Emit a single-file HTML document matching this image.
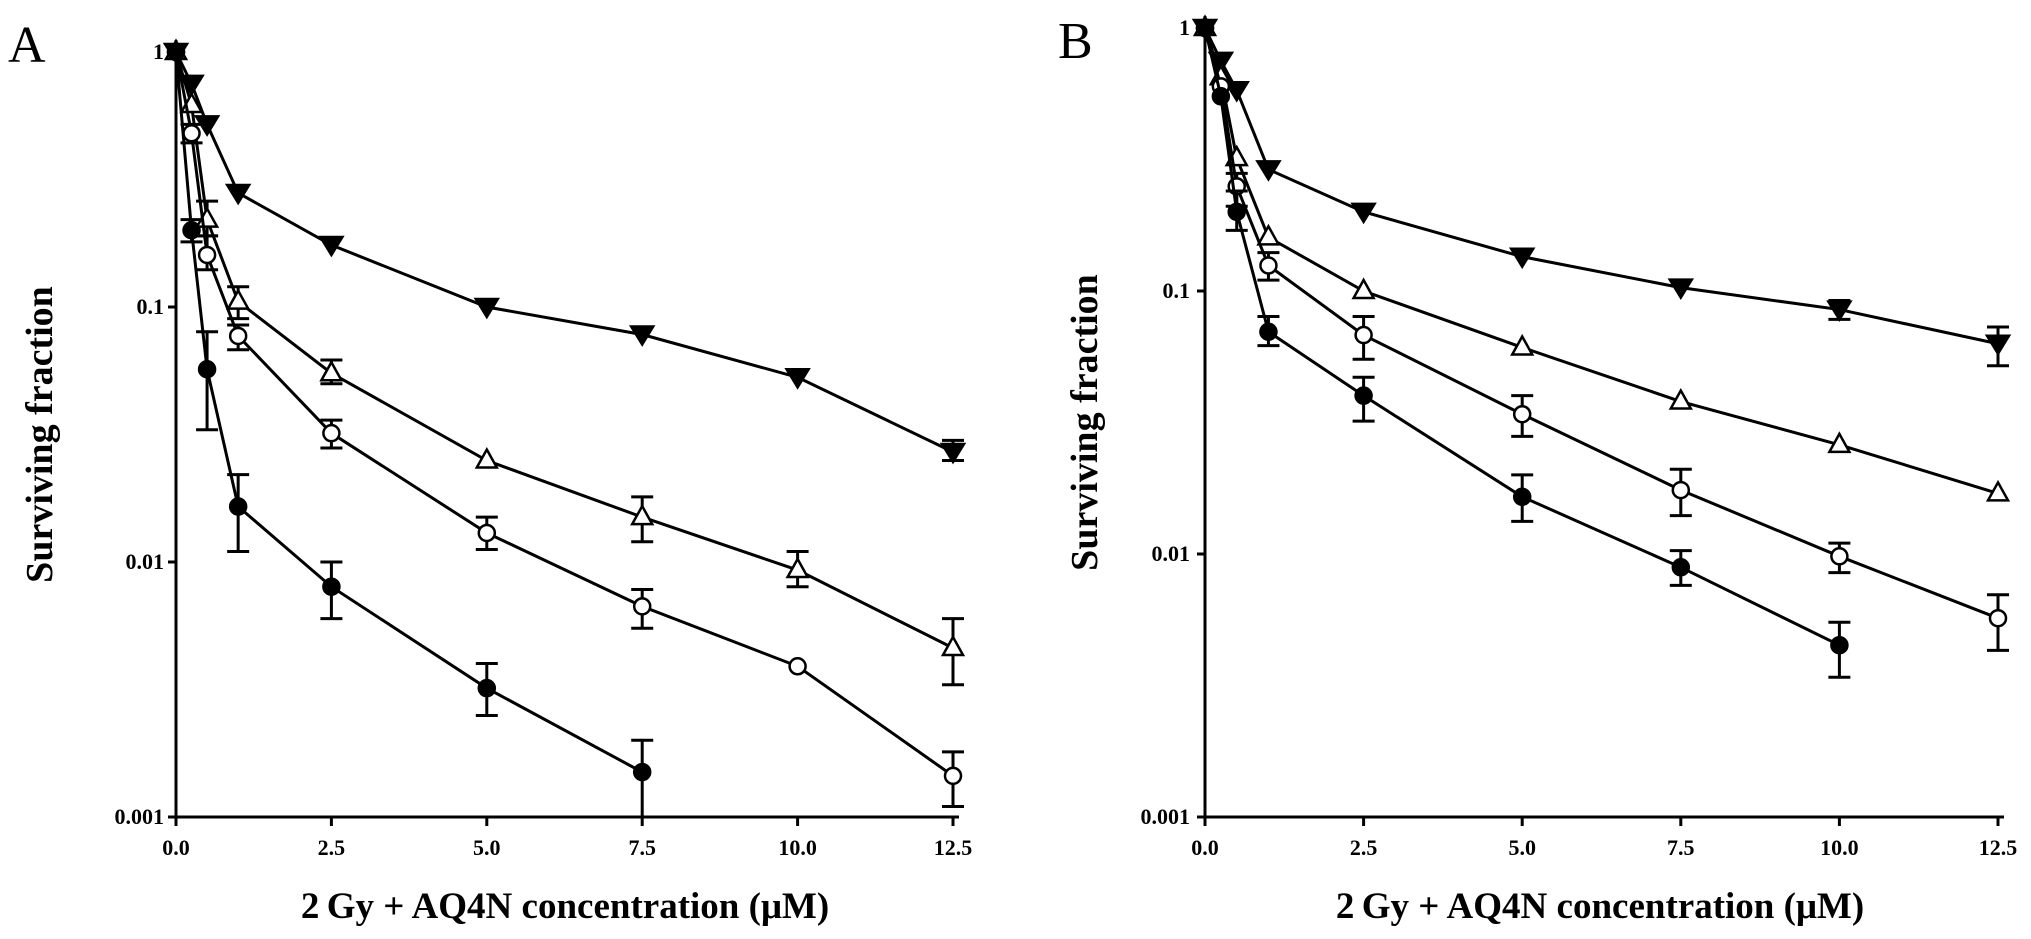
<!DOCTYPE html>
<html><head><meta charset="utf-8"><style>
html,body{margin:0;padding:0;background:#fff;}
svg{display:block;}
text{font-family:"Liberation Serif",serif;font-weight:bold;fill:#000;}
</style></head><body>
<svg id="chart" width="2031" height="939" viewBox="0 0 2031 939"></svg>
<script>
const xVals=[0,0.25,0.5,1,2.5,5,7.5,10,12.5];
const xTicks=[0,2.5,5,7.5,10,12.5];
const xTickLabels=["0.0","2.5","5.0","7.5","10.0","12.5"];
const yTicks=[1,0.1,0.01,0.001];
const yTickLabels=["1","0.1","0.01","0.001"];
// Panel A
const aFilledTri=[1,0.75,0.52,0.28,0.175,0.1,0.078,0.053,0.027];
const aFilledTriHi=[null,null,null,null,null,null,null,null,0.03];
const aFilledTriLo=[null,null,null,null,null,null,null,null,0.025];
const aOpenTri=[1,0.62,0.22,0.105,0.055,0.025,0.015,0.0093,0.0046];
const aOpenTriHi=[null,null,0.26,0.12,0.062,null,0.018,0.011,0.006];
const aOpenTriLo=[null,null,0.19,0.09,0.05,null,0.012,0.008,0.0033];
const aOpenCirc=[1,0.48,0.16,0.077,0.032,0.013,0.0067,0.0039,0.00145];
const aOpenCircHi=[null,0.52,0.19,0.085,0.036,0.015,0.0078,null,0.0018];
const aOpenCircLo=[null,0.44,0.14,0.068,0.028,0.0112,0.0055,null,0.0011];
const aFilledCirc=[1,0.2,0.057,0.0165,0.008,0.0032,0.0015];
const aFilledCircHi=[null,0.22,0.08,0.022,0.010,0.004,0.002];
const aFilledCircLo=[null,0.18,0.033,0.011,0.006,0.0025,0.001];
// Panel B
const bFilledTri=[1,0.75,0.58,0.29,0.2,0.135,0.103,0.085,0.063];
const bFilledTriHi=[null,null,null,null,null,null,null,0.092,0.073];
const bFilledTriLo=[null,null,null,null,null,null,null,0.078,0.052];
const bOpenTri=[1,0.65,0.32,0.16,0.1,0.061,0.038,0.026,0.017];
const bOpenTriHi=[null,null,null,null,null,null,null,null,null];
const bOpenTriLo=[null,null,null,null,null,null,null,null,null];
const bOpenCirc=[1,0.6,0.25,0.125,0.068,0.034,0.0175,0.0098,0.0057];
const bOpenCircHi=[null,null,0.28,0.14,0.08,0.04,0.021,0.011,0.007];
const bOpenCircLo=[null,null,0.21,0.11,0.055,0.028,0.014,0.0085,0.0043];
const bFilledCirc=[1,0.55,0.2,0.07,0.04,0.0165,0.0089,0.0045];
const bFilledCircHi=[null,null,0.24,0.08,0.047,0.02,0.0103,0.0055];
const bFilledCircLo=[null,null,0.17,0.062,0.032,0.0133,0.0076,0.0034];

const NS="http://www.w3.org/2000/svg";
const svg=document.getElementById('chart');
function mk(tag,attrs,parent){const e=document.createElementNS(NS,tag);for(const k in attrs)e.setAttribute(k,attrs[k]);(parent||svg).appendChild(e);return e;}

const panels=[
 {id:'a',letter:'A',lx:8,ly:62,x0:176,x1:953,yBottom:817,decade:255,ylabX:40,labRight:164,titleX:565,
  series:[[aFilledTri,aFilledTriHi,aFilledTriLo,'tri-down',true,'filled-triangle'],[aOpenTri,aOpenTriHi,aOpenTriLo,'tri-up',false,'open-triangle'],[aOpenCirc,aOpenCircHi,aOpenCircLo,'circle',false,'open-circle'],[aFilledCirc,aFilledCircHi,aFilledCircLo,'circle',true,'filled-circle']]},
 {id:'b',letter:'B',lx:1058,ly:58,x0:1205,x1:1998,yBottom:817,decade:263,ylabX:1085,labRight:1190,titleX:1600,
  series:[[bFilledTri,bFilledTriHi,bFilledTriLo,'tri-down',true,'filled-triangle'],[bOpenTri,bOpenTriHi,bOpenTriLo,'tri-up',false,'open-triangle'],[bOpenCirc,bOpenCircHi,bOpenCircLo,'circle',false,'open-circle'],[bFilledCirc,bFilledCircHi,bFilledCircLo,'circle',true,'filled-circle']]}
];

panels.forEach(p=>{
 const g=mk('g',{});
 
 
 const sx=v=>p.x0+(v/12.5)*(p.x1-p.x0);
 const sy=v=>p.yBottom-(Math.log10(v)+3)*p.decade;
 const L=mk('text',{x:p.lx,y:p.ly,'font-size':52,'font-weight':'normal',style:'font-weight:normal'},g);L.textContent=p.letter;
 
 
 const ya=mk('line',{x1:p.x0,y1:sy(1)-12,x2:p.x0,y2:p.yBottom,stroke:'#000','stroke-width':3},g);
 
 
 const xa=mk('line',{x1:p.x0-8,y1:p.yBottom,x2:p.x1+6,y2:p.yBottom,stroke:'#000','stroke-width':3},g);
 
 
 yTicks.forEach((t,i)=>{
  mk('line',{x1:p.x0-8,y1:sy(t),x2:p.x0,y2:sy(t),stroke:'#000','stroke-width':3},g);
  const tl=mk('text',{x:p.labRight,y:sy(t)+7,'font-size':22,'text-anchor':'end'},g);tl.textContent=yTickLabels[i];
  
  
 });
 xTicks.forEach((t,i)=>{
  mk('line',{x1:sx(t),y1:p.yBottom,x2:sx(t),y2:p.yBottom+9,stroke:'#000','stroke-width':3},g);
  const tl=mk('text',{x:sx(t),y:p.yBottom+38,'font-size':22,'text-anchor':'middle'},g);tl.textContent=xTickLabels[i];
  
  
 });
 const xt=mk('text',{x:p.titleX,y:918,'font-size':37,'text-anchor':'middle'},g);xt.textContent='2\u2009Gy + AQ4N concentration (\u03bcM)';
 
 
 const yt=mk('text',{x:0,y:0,'font-size':38,'text-anchor':'middle',transform:`translate(${p.ylabX+12},${(sy(1)+p.yBottom)/2}) rotate(-90)`},g);yt.textContent='Surviving fraction';
 
 
 p.series.forEach(s=>{
  const [vals,hi,lo,shape,filled,name]=s;
  const sg=mk('g',{},g);
  
  
  const pts=vals.map((v,i)=>sx(xVals[i])+','+sy(v)).join(' ');
  mk('polyline',{points:pts,fill:'none',stroke:'#000','stroke-width':3},sg);
  vals.forEach((v,i)=>{
   const cx=sx(xVals[i]),cy=sy(v);
   if(hi[i]!=null){
    const yh=sy(hi[i]),yl=sy(lo[i]);
    const eb=mk('path',{d:`M${cx},${yh}V${yl}M${cx-11},${yh}H${cx+11}M${cx-11},${yl}H${cx+11}`,stroke:'#000','stroke-width':3,fill:'none'},sg);
    
    
   }
   let m;
   const fill=filled?'#000':'#fff';
   if(shape==='circle') m=mk('circle',{cx:cx,cy:cy,r:8,fill:fill,stroke:'#000','stroke-width':2.5},sg);
   else if(shape==='tri-up') m=mk('polygon',{points:`${cx},${cy-11} ${cx+10},${cy+7} ${cx-10},${cy+7}`,fill:fill,stroke:'#000','stroke-width':2.5},sg);
   else m=mk('polygon',{points:`${cx-11},${cy-8} ${cx+11},${cy-8} ${cx},${cy+10}`,fill:fill,stroke:'#000','stroke-width':2.5},sg);
   
   
  });
 });
});
</script>
</body></html>
